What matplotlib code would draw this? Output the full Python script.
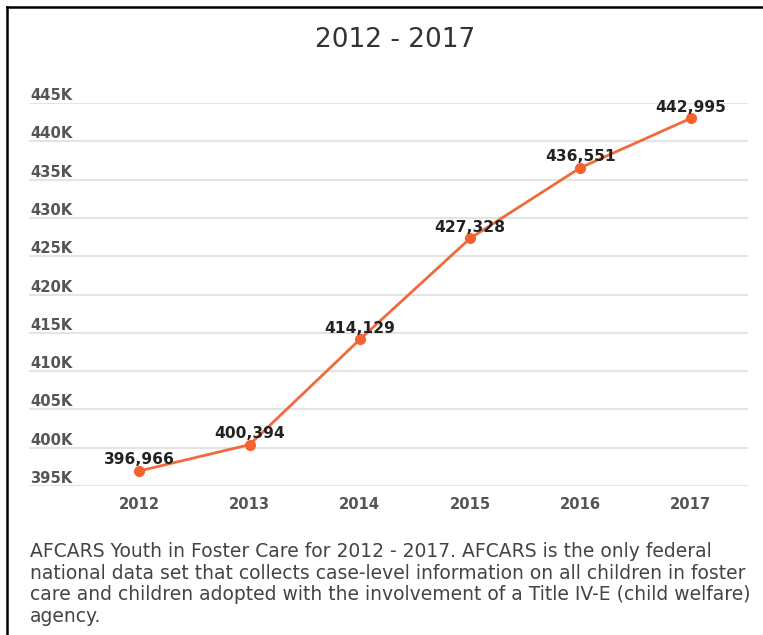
import matplotlib.pyplot as plt
from matplotlib.lines import Line2D

plt.rcParams['font.family'] = ['DejaVu Sans']

# Data
years = ['2012', '2013', '2014', '2015', '2016', '2017']
youth = [396966, 400394, 414129, 427328, 436551, 442995]
y_ticks = [395000, 400000, 405000, 410000, 415000, 420000,
           425000, 430000, 435000, 440000, 445000]
y_tick_labels = ['395K', '400K', '405K', '410K', '415K', '420K',
                 '425K', '430K', '435K', '440K', '445K']

W, H = 763, 635
fig = plt.figure(figsize=(W / 100, H / 100), dpi=100)

# Axes placed in pixel terms
left, right, top, bottom = 29, 748, 103, 486
ax = fig.add_axes([left / W, 1 - bottom / H, (right - left) / W, (bottom - top) / H])

x = list(range(len(years)))
ax.plot(x, youth, color='#f26a3b', lw=2, marker='o', ms=7,
        markerfacecolor='#f5622d', markeredgecolor='#f5622d', clip_on=False, zorder=3)

for xi, v in zip(x, youth):
    ax.annotate(f'{v:,}', (xi, v), xytext=(0, 2.5), textcoords='offset points',
                ha='center', va='bottom', fontsize=11.2, fontweight='bold',
                color='#222222', zorder=4)

ax.set_xlim(-1.0, 5.52)
ax.set_ylim(395000, 445000)
ax.set_yticks(y_ticks)
ax.set_yticklabels([])
ax.tick_params(axis='y', length=0)
ax.grid(axis='y', color='#e4e4e4', lw=1.5)
ax.set_axisbelow(True)

# y labels sit above their gridlines
for v, lab in zip(y_ticks, y_tick_labels):
    ax.text(0.002, v, lab, transform=ax.get_yaxis_transform(), ha='left', va='bottom',
            fontsize=10.6, color='#555555', fontweight='bold')

ax.set_xticks(x)
ax.set_xticklabels(years, fontsize=10.6, color='#555555', fontweight='bold')
ax.tick_params(axis='x', length=0, pad=8)

for s in ax.spines.values():
    s.set_visible(False)

# Title
fig.text(395 / W, 1 - 40 / H, '2012 - 2017', ha='center', va='center',
         fontsize=19, color='#333333')

# Caption
caption = ('AFCARS Youth in Foster Care for 2012 - 2017. AFCARS is the only federal\n'
           'national data set that collects case-level information on all children in foster\n'
           'care and children adopted with the involvement of a Title IV-E (child welfare)\n'
           'agency.')
fig.text(30 / W, 1 - 542 / H, caption, ha='left', va='top', fontsize=13.5,
         color='#444444', linespacing=1.17)

# Frame lines (top and left only)
fig.add_artist(Line2D([7 / W, 1], [1 - 7 / H, 1 - 7 / H], color='black', lw=1.8,
                      transform=fig.transFigure))
fig.add_artist(Line2D([7 / W, 7 / W], [0, 1 - 7 / H], color='black', lw=1.8,
                      transform=fig.transFigure))

plt.savefig('out.png', dpi=100)
